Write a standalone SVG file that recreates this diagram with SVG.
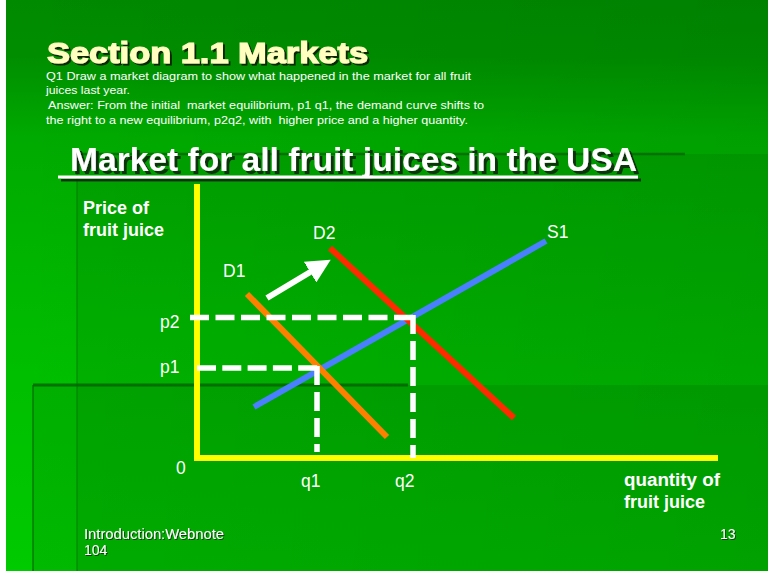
<svg xmlns="http://www.w3.org/2000/svg" width="768" height="571" viewBox="0 0 768 571">
<style>
.title{font-family:"Liberation Sans",Arial,sans-serif;font-weight:bold;font-size:30px;fill:#FFFFC0;stroke:#FFFFC0;stroke-width:1.2}
.para{font-family:"Liberation Sans",Arial,sans-serif;font-size:11.5px;fill:#FFFFFF}
.sub{font-family:"Liberation Sans",Arial,sans-serif;font-weight:bold;font-size:33px;fill:#FFFFFF}
.axlab{font-family:"Liberation Sans",Arial,sans-serif;font-weight:bold;font-size:18px;fill:#FFFFFF}
.lab{font-family:"Liberation Sans",Arial,sans-serif;font-size:17.5px;fill:#FFFFFF}
.foot{font-family:"Liberation Sans",Arial,sans-serif;font-size:14px;fill:#FFFFFF}
.axis{stroke:#FFFF00;stroke-width:6;fill:none}
.curve{stroke-width:6;fill:none}
.guide{stroke:#FFFFFF;stroke-width:5.5;fill:none}
</style>
<defs>
<linearGradient id="bg" x1="0" y1="0" x2="0" y2="1">
<stop offset="0" stop-color="#008A00"/>
<stop offset="0.1" stop-color="#008E00"/>
<stop offset="0.24" stop-color="#00AA00"/>
<stop offset="0.65" stop-color="#00BE00"/>
<stop offset="1" stop-color="#00CA00"/>
</linearGradient>
<linearGradient id="hshade" x1="0" y1="0" x2="1" y2="0">
<stop offset="0" stop-color="#000" stop-opacity="0"/>
<stop offset="1" stop-color="#000" stop-opacity="0.06"/>
</linearGradient>
<filter id="sh2" x="-5%" y="-20%" width="110%" height="150%">
<feDropShadow dx="2" dy="2" stdDeviation="0.4" flood-color="#102000" flood-opacity="0.95"/>
</filter>
<filter id="sh3" x="-5%" y="-20%" width="110%" height="150%">
<feDropShadow dx="3" dy="3" stdDeviation="0.5" flood-color="#0a2a0a" flood-opacity="0.9"/>
</filter>
<filter id="sh1" x="-5%" y="-20%" width="110%" height="150%">
<feDropShadow dx="1" dy="1" stdDeviation="0.3" flood-color="#0a3a0a" flood-opacity="0.9"/>
</filter>
<marker id="ah" markerUnits="userSpaceOnUse" markerWidth="24" markerHeight="24" viewBox="0 0 22 22" refX="2" refY="11" orient="auto">
<path d="M0,0 L22,11 L0,22 Z" fill="#FFFFFF"/>
</marker>
</defs>

<g id="background">
<rect x="0" y="0" width="768" height="571" fill="#FFFFFF"/>
<rect x="6" y="0" width="762" height="571" fill="url(#bg)"/>
<rect x="6" y="0" width="762" height="571" fill="url(#hshade)"/>
<rect x="77" y="154" width="691" height="417" fill="#000" fill-opacity="0.07"/>
<rect x="33" y="385" width="735" height="186" fill="#000" fill-opacity="0.08"/>
<line x1="77" y1="154" x2="685" y2="154" stroke="#006600" stroke-width="2.5" stroke-opacity="0.8"/>
<line x1="77" y1="154" x2="77" y2="571" stroke="#006600" stroke-width="2" stroke-opacity="0.35"/>
<line x1="33" y1="385" x2="408" y2="385" stroke="#006000" stroke-width="3" stroke-opacity="0.8"/>
<line x1="33" y1="385" x2="33" y2="571" stroke="#006000" stroke-width="2" stroke-opacity="0.55"/>
</g>

<g id="heading">
<text class="title" x="47" y="63" textLength="321" lengthAdjust="spacingAndGlyphs" filter="url(#sh2)">Section 1.1 Markets</text>
<text class="para" x="46" y="80" textLength="425" lengthAdjust="spacingAndGlyphs">Q1 Draw a market diagram to show what happened in the market for all fruit</text>
<text class="para" x="46" y="94" textLength="84" lengthAdjust="spacingAndGlyphs">juices last year.</text>
<text class="para" x="48" y="109" textLength="436" lengthAdjust="spacingAndGlyphs" xml:space="preserve">Answer: From the initial  market equilibrium, p1 q1, the demand curve shifts to</text>
<text class="para" x="46" y="124" textLength="422" lengthAdjust="spacingAndGlyphs" xml:space="preserve">the right to a new equilibrium, p2q2, with  higher price and a higher quantity.</text>
</g>

<g id="subtitle" filter="url(#sh3)">
<text class="sub" x="70" y="171" textLength="567" lengthAdjust="spacingAndGlyphs">Market for all fruit juices in the USA</text>
<rect x="58" y="175.5" width="580" height="3" fill="#FFFFFF"/>
</g>

<g id="axes">
<path class="axis" d="M197,184 V460"/>
<path class="axis" d="M194,458 H718"/>
<text class="axlab" x="83" y="214">Price of</text>
<text class="axlab" x="83" y="236">fruit juice</text>
<text class="axlab" x="624" y="486" textLength="96" lengthAdjust="spacingAndGlyphs">quantity of</text>
<text class="axlab" x="624" y="508">fruit juice</text>
<text class="lab" x="176" y="474">0</text>
</g>

<g id="curve-S1">
<line class="curve" x1="254" y1="407" x2="546" y2="241" stroke="#4A80FF"/>
<text class="lab" x="547" y="238">S1</text>
</g>
<g id="curve-D1">
<line class="curve" x1="247" y1="294" x2="387" y2="437" stroke="#FF8000"/>
<text class="lab" x="223" y="277">D1</text>
</g>
<g id="curve-D2">
<line class="curve" x1="330" y1="248" x2="514" y2="418" stroke="#FF2A00"/>
<text class="lab" x="313" y="239">D2</text>
</g>

<g id="connectors">
<path class="guide" d="M190,317.5 H413" stroke-dasharray="19 6.5"/>
<path class="guide" d="M413,315 V458" stroke-dasharray="19 7"/>
<path class="guide" d="M197,368 H318" stroke-dasharray="19 6.3"/>
<path class="guide" d="M317,366 V452" stroke-dasharray="19 7"/>
<line x1="267" y1="298" x2="312" y2="271" stroke="#FFFFFF" stroke-width="6" marker-end="url(#ah)"/>
</g>

<g id="guide-labels">
<text class="lab" x="160" y="328">p2</text>
<text class="lab" x="160" y="373">p1</text>
<text class="lab" x="301" y="487">q1</text>
<text class="lab" x="395" y="487">q2</text>
</g>

<g id="footer" filter="url(#sh1)">
<text class="foot" x="84" y="539" textLength="140" lengthAdjust="spacingAndGlyphs">Introduction:Webnote</text>
<text class="foot" x="84" y="555">104</text>
<text class="foot" x="720" y="539">13</text>
</g>
</svg>
